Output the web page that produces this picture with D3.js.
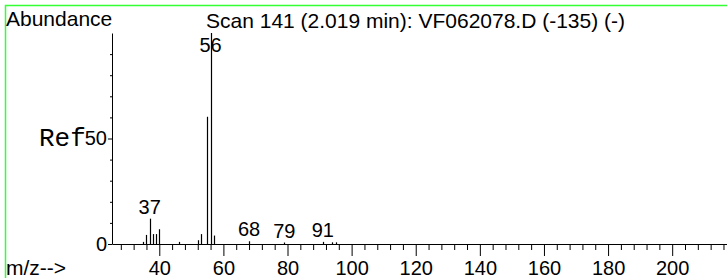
<!DOCTYPE html>
<html>
<head>
<meta charset="utf-8">
<script src="https://cdn.jsdelivr.net/npm/d3@7"></script>
<style>
	body { margin: 0; background: #fff; }
	svg { display: block; }
	text { font-family: "Liberation Sans", Arial, sans-serif; fill: #000; }
</style>
</head>
<body>
<div id="chart"></div>
<script>
// spectrum peaks (relative abundance, % of base peak)
const peakMz = [35, 36, 37, 38, 39, 40, 46, 52, 53, 55, 56, 57, 68, 79, 91, 94, 95];
const peakAbund = [1, 4.3, 12, 4.7, 4.7, 7, 1, 1.8, 4.7, 60.3, 100, 4, 1.3, 0.7, 1, 0.8, 0.8];
const labelledMz = [37, 56, 68, 79, 91];

const xMajorTicks = [40, 60, 80, 100, 120, 140, 160, 180, 200];
const yMajorTicks = [0, 50];

const title = "Scan 141 (2.019 min): VF062078.D (-135) (-)";

const width = 727;
const height = 278;

const svg = d3.select("div#chart")
	.append("svg")
		.attr("width", width)
		.attr("height", height);

// green frame (runs off the right / bottom edge)
svg.append("rect")
	.attr("x", 5.5)
	.attr("y", 5.5)
	.attr("width", 800)
	.attr("height", 400)
	.attr("fill", "none")
	.attr("stroke", "#33ff33")
	.attr("stroke-width", 1.5);

const scaleX = d3.scaleLinear().domain([25.25, 217.1]).range([112, 727]);
const scaleY = d3.scaleLinear().domain([0, 100]).range([244, 33]);

const xMinor = d3.range(28, 218, 4).filter((d) => xMajorTicks.indexOf(d) < 0);
const yMinor = d3.range(10, 100, 10).filter((d) => yMajorTicks.indexOf(d) < 0);

// minor x ticks
svg.append("g")
	.attr("class", "x-minor")
	.attr("transform", `translate(0,244)`)
	.call(d3.axisBottom(scaleX).tickValues(xMinor).tickSize(6).tickSizeOuter(0).tickFormat(""))
	.call((g) => g.select(".domain").remove());

// main x axis
svg.append("g")
	.attr("class", "scale-x")
	.attr("transform", `translate(0,244)`)
	.call(d3.axisBottom(scaleX).tickValues(xMajorTicks).tickSize(12).tickSizeOuter(0).tickPadding(5))
	.call((g) => g.selectAll("text").style("font-size", "20px").attr("fill", "#000"));

// y axis
svg.append("g")
	.attr("class", "y-minor")
	.attr("transform", `translate(112,0)`)
	.call(d3.axisLeft(scaleY).tickValues(yMinor).tickSize(2).tickSizeOuter(0).tickFormat(""))
	.call((g) => g.select(".domain").remove());

svg.append("g")
	.attr("class", "scale-y")
	.attr("transform", `translate(112,0)`)
	.call(d3.axisLeft(scaleY).tickValues(yMajorTicks).tickSize(4).tickSizeOuter(0).tickPadding(1))
	.call((g) => g.selectAll("text").style("font-size", "20px").attr("fill", "#000"));

svg.selectAll(".domain").attr("stroke", "#000");
svg.selectAll(".tick line").attr("stroke", "#000");

// peaks
svg.append("g")
	.attr("class", "peaks")
	.selectAll("line")
	.data(peakMz)
	.enter()
	.append("line")
		.attr("x1", (d) => Math.round(scaleX(d)) + 0.5)
		.attr("x2", (d) => Math.round(scaleX(d)) + 0.5)
		.attr("y1", scaleY(0))
		.attr("y2", (d, i) => scaleY(peakAbund[i]))
		.attr("stroke", "#000")
		.attr("stroke-width", 1.2);

// peak labels
svg.append("g")
	.attr("class", "peak-labels")
	.selectAll("text")
	.data(labelledMz)
	.enter()
	.append("text")
		.attr("x", (d) => scaleX(d))
		.attr("y", (d) => {
			const top = scaleY(peakAbund[peakMz.indexOf(d)]);
			return Math.max(top - 5, 52);
		})
		.attr("text-anchor", "middle")
		.style("font-size", "20px")
		.text((d) => d);

svg.append("text")
	.attr("x", 6)
	.attr("y", 26)
	.style("font-size", "21px")
	.text("Abundance");

svg.append("text")
	.attr("x", 206)
	.attr("y", 28)
	.style("font-size", "21px")
	.text(title);

svg.append("text")
	.attr("x", 39)
	.attr("y", 146)
	.style("font-family", "'Liberation Mono', 'Courier New', monospace")
	.style("font-size", "26px")
	.attr("fill", "#444")
	.text("Ref");

svg.append("text")
	.attr("x", 6)
	.attr("y", 275)
	.style("font-size", "21px")
	.text("m/z-->");
</script>
</body>
</html>
